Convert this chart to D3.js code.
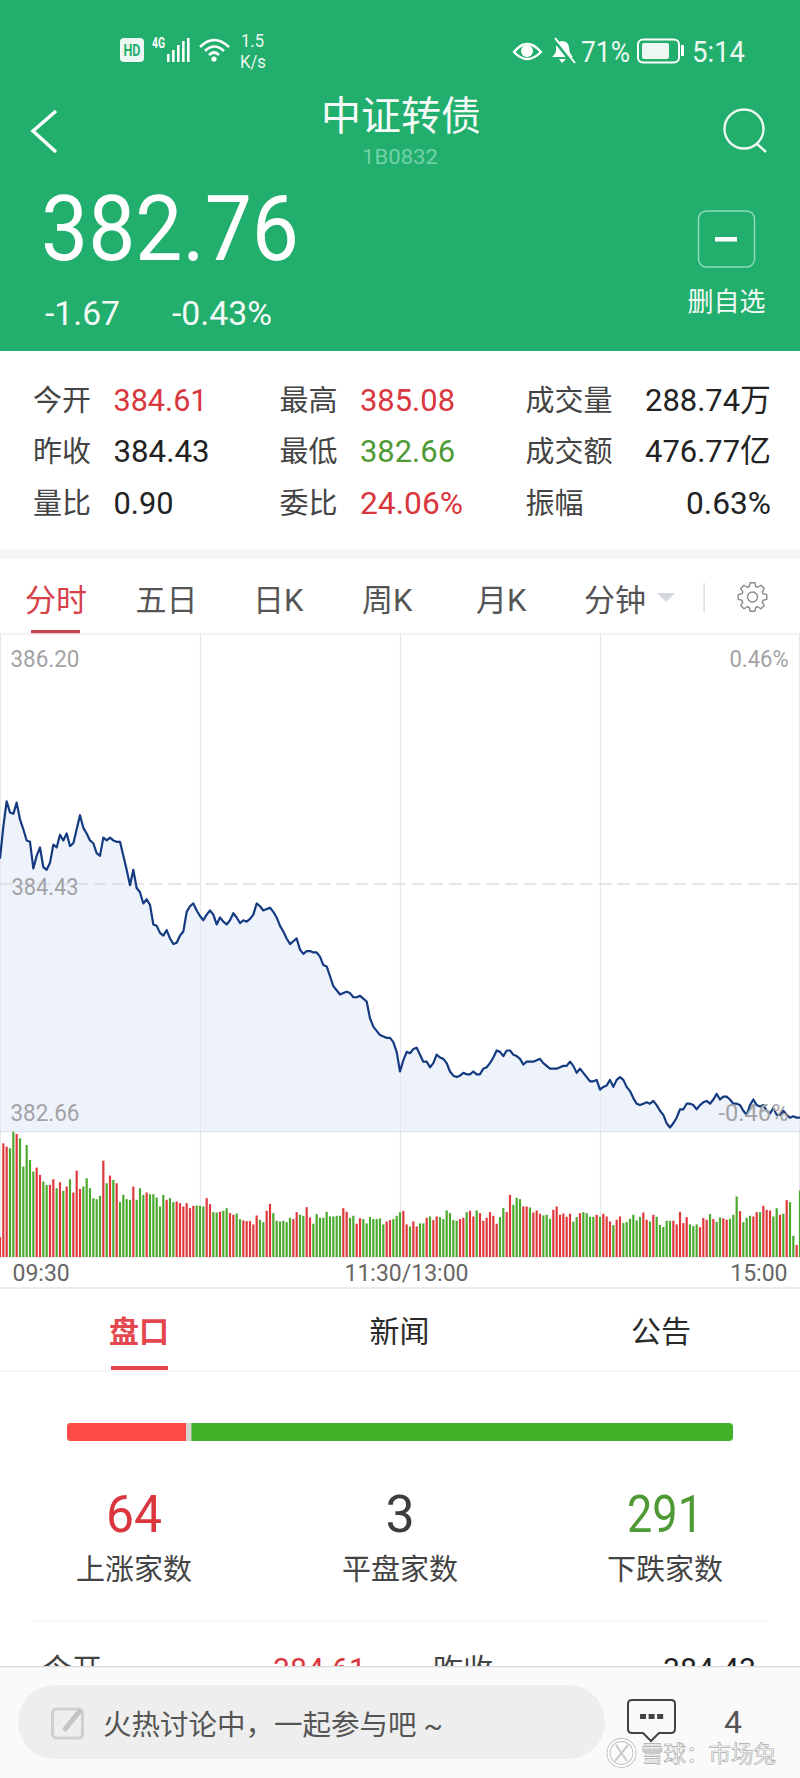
<!DOCTYPE html>
<html>
<head>
  <meta charset="utf-8" />
  <script src="https://d3js.org/d3.v7.min.js"></script>
  <style>
    body {
      margin: 0;
      background: #fff;
    }
    svg {
      display: block;
    }
    text {
      font-family: Roboto, "Noto Sans CJK SC", sans-serif;
    }
  </style>
</head>
<body>
  <script>
    // minute prices, 09:30 to 15:00
    var pricesEarly = [
      384.61,384.84,385.02,384.94,384.93,385.01,384.89,384.82,384.74,384.73,
      384.54,384.63,384.69,384.55,384.53,384.58,384.71,384.69,384.78,384.74,
      384.79,384.70,384.72,384.82,384.92,384.83,384.79,384.74,384.72,384.65,
      384.63,384.76,384.74,384.76,384.74,384.73,384.73,384.63,384.53,384.42,
      384.53,384.40,384.37,384.29,384.32,384.28,384.14,384.13,384.08,384.06,
      384.10,384.04,384.00,384.01,384.06,384.09,384.23,384.27,384.29,384.24,
      384.20,384.17,384.21,384.24,384.21,384.14,384.19,384.16,384.14,384.17,
      384.22,384.19,384.15,384.17,384.16,384.18,384.21,384.29,384.27,384.24,
      384.25
    ];
    var pricesMiddle = [
      384.26,384.23,384.19,384.13,384.09,384.04,384.00,384.02,384.04,383.96,
      383.93,383.95,383.95,383.94,383.94,383.91,383.85,383.84,383.77,383.70,
      383.67,383.64,383.65,383.66,383.65,383.62,383.62,383.63,383.61,383.59,
      383.47,383.41,383.38,383.35,383.34,383.33,383.33,383.30,383.23,383.09,
      383.17,383.23,383.22,383.25,383.26,383.21,383.16,383.16,383.12,383.15,
      383.21,383.19,383.18,383.15,383.09,383.06,383.05,383.06,383.08,383.07,
      383.07,383.09,383.07,383.07,383.11,383.12,383.15,383.19,383.24,383.23,
      383.20,383.24,383.24,383.21,383.20,383.18,383.14,383.16
    ];
    var pricesLate = [
      383.16,383.16,383.17,383.18,383.15,383.13,383.11,383.11,383.11,383.12,
      383.13,383.13,383.16,383.13,383.08,383.11,383.08,383.05,383.02,383.02,
      383.03,382.96,382.98,382.99,383.03,382.98,383.03,383.05,383.03,382.98,
      382.95,382.90,382.86,382.85,382.86,382.87,382.86,382.88,382.85,382.81,
      382.78,382.72,382.69,382.72,382.76,382.82,382.82,382.86,382.86,382.85,
      382.82,382.85,382.87,382.88,382.86,382.89,382.93,382.89,382.91,382.91,
      382.89,382.86,382.86,382.85,382.81,382.78,382.85,382.89,382.85,382.84,
      382.85,382.81,382.79,382.83,382.78,382.78,382.81,382.78,382.76,382.77,
      382.76,382.76
    ];
    // minute volumes, relative units (no scale on the picture)
    var volumesEarly = [
      60,342,332,327,377,370,357,272,337,292,
      257,269,247,227,217,217,234,207,225,199,
      212,234,194,260,205,212,237,207,177,174,
      184,290,222,245,232,222,165,187,174,172,
      212,172,207,187,194,189,189,179,152,187,
      172,177,165,167,162,152,162,147,154,155,
      154,152,177,159,135,134,136,139,147,132,
      127,131,114,110,108,108,98,125,112,105,
      139
    ];
    var volumesMiddle = [
      160,132,109,107,109,105,118,114,135,127,
      124,150,119,100,129,118,118,136,122,122,
      124,124,147,136,118,124,100,117,114,101,
      120,114,114,116,98,107,111,114,124,135,
      139,98,92,107,92,101,101,118,122,111,
      122,120,114,140,132,111,109,114,118,135,
      139,122,140,132,109,118,135,124,100,120,
      147,135,187,157,178,174,152,152,149,134,
      140,130
    ];
    var volumesLate = [
      125,127,115,142,152,127,131,121,130,106,
      120,132,135,132,121,121,127,121,130,122,
      107,96,112,122,102,105,115,127,110,121,
      134,112,107,127,121,96,90,109,109,109,
      98,136,102,120,98,93,98,90,117,112,
      129,114,106,119,116,112,115,127,182,138,
      105,118,124,122,135,135,154,142,140,122,
      147,127,130,171,165,64,36,200
    ];
    // r = up minute, g = down minute
    var volumeDirs = "rrrggrgggg" + "grrggrrgrg" + "rgrrrggggg" + "grgrgrgggg" + "rgggrggggg" +
      "rggrrrrrrg" + "ggrrggrggr" + "rggrrrrrgg" + "r" +
      "rggggggrrg" + "grrggggggg" + "ggrrggrrgg" + "gggggrrggg" + "rrgrrggrgr" +
      "rggggggrrg" + "rrgrrrrrrg" + "grrgggrrgr" + "rr" +
      "gggrrrrrrg" + "grggggrgrr" + "rgrrgggggg" + "rrgrgggggr" + "rrrrgggrrr" +
      "grggrrgggr" + "gggrrgrrrg" + "grgrggrg";

    var priceTicks = [386.20, 384.43, 382.66];
    var percentTicks = ["0.46%", "-0.46%"];
    var timeTicks = [0, 120, 240];
    var timeLabels = ["09:30", "11:30/13:00", "15:00"];
    var gridTicks = [60, 120, 180];

    var tabs = ["分时", "五日", "日K", "周K", "月K", "分钟"];
    var sections = ["盘口", "新闻", "公告"];
    var breadthCounts = [64, 3, 291];
    var breadthLabels = ["上涨家数", "平盘家数", "下跌家数"];

    var red = "#d9363e";
    var green = "#4f9a35";
    var ink = "#333";
    var header = "#22ae6c";

    var prices = pricesEarly.concat(pricesMiddle, pricesLate);
    var volumes = volumesEarly.concat(volumesMiddle, volumesLate);

    var svg = d3.select("body")
      .append("svg")
      .attr("width", 800)
      .attr("height", 1778);

    // one text call for everything, len squeezes Roboto down to the app's narrow digits
    function label(x, y, str, opts) {
      opts = opts || {};
      var t = svg.append("text")
        .attr("x", x)
        .attr("y", y)
        .attr("font-size", opts.size || 28)
        .attr("fill", opts.fill || ink)
        .attr("text-anchor", opts.anchor || "start")
        .attr("font-weight", opts.weight || 400)
        .text(str);
      if (opts.len) {
        t.attr("textLength", opts.len).attr("lengthAdjust", "spacingAndGlyphs");
      }
      return t;
    }

    /* header */
    svg.append("rect").attr("width", 800).attr("height", 351).attr("fill", header);

    svg.append("rect").attr("x", 120).attr("y", 38).attr("width", 24).attr("height", 24)
      .attr("rx", 4).attr("fill", "#eef8f2");
    label(132, 56, "HD", { size: 16, fill: header, anchor: "middle", weight: 700, len: 17 });
    label(152, 48, "4G", { size: 14, fill: "#fff", weight: 700, len: 13 });
    [[167, 8], [172, 12], [177, 17], [182, 21], [187, 24]].forEach(function(b) {
      svg.append("rect").attr("x", b[0]).attr("y", 62 - b[1]).attr("width", 2.6).attr("height", b[1])
        .attr("fill", "#fff");
    });
    svg.append("path")
      .attr("d", "M200 47 Q214 33 229 47 M205 51 Q214 42 224 51 M209 55 Q214 50 219 55")
      .attr("fill", "none").attr("stroke", "#fff").attr("stroke-width", 2.6);
    svg.append("circle").attr("cx", 214).attr("cy", 59).attr("r", 2.6).attr("fill", "#fff");
    label(241, 47, "1.5", { size: 18, fill: "#eef8f2", len: 23 });
    label(240, 68, "K/s", { size: 18, fill: "#eef8f2", len: 26 });

    svg.append("path")
      .attr("d", "M514 52 Q527 36 541 52 Q527 66 514 52 Z")
      .attr("fill", "none").attr("stroke", "#fff").attr("stroke-width", 2.4);
    svg.append("circle").attr("cx", 527).attr("cy", 51).attr("r", 6).attr("fill", "#fff");
    svg.append("path")
      .attr("d", "M552 57 Q557 53 556 47 Q557 41 562 41 Q568 41 569 47 Q569 53 573 57 Z M559 59 H566 L562 63 Z")
      .attr("fill", "#fff");
    svg.append("path").attr("d", "M553 38 L573 63").attr("stroke", header).attr("stroke-width", 4);
    svg.append("path").attr("d", "M555 38 L575 63").attr("stroke", "#fff").attr("stroke-width", 2);
    label(581, 62, "71%", { size: 29, fill: "#eef8f2", len: 49 });
    svg.append("rect").attr("x", 638).attr("y", 39.5).attr("width", 41).attr("height", 23).attr("rx", 5)
      .attr("fill", "none").attr("stroke", "#fff").attr("stroke-width", 2);
    svg.append("rect").attr("x", 642).attr("y", 43).attr("width", 27).attr("height", 16).attr("rx", 2)
      .attr("fill", "#eef8f2");
    svg.append("rect").attr("x", 681).attr("y", 45).attr("width", 3).attr("height", 11).attr("fill", "#fff");
    label(692, 62, "5:14", { size: 29, fill: "#eef8f2", len: 53 });

    svg.append("path").attr("d", "M56 111 L33 131 L56 152")
      .attr("fill", "none").attr("stroke", "#fff").attr("stroke-width", 3.4);
    label(401, 130, "中证转债", { size: 40, fill: "#f6fbf8", anchor: "middle" });
    label(400, 164, "1B0832", { size: 21, fill: "#72d2a9", anchor: "middle", len: 76 });
    svg.append("circle").attr("cx", 744).attr("cy", 129).attr("r", 19.5)
      .attr("fill", "none").attr("stroke", "#eef8f2").attr("stroke-width", 2.4);
    svg.append("path").attr("d", "M757 144 L766 152").attr("stroke", "#eef8f2").attr("stroke-width", 2.4);

    label(41, 260, "382.76", { size: 91, fill: "#fff", len: 258 });
    label(45, 325, "-1.67", { size: 33, fill: "#f2faf6", len: 75 });
    label(172, 325, "-0.43%", { size: 33, fill: "#f2faf6", len: 100 });

    svg.append("rect").attr("x", 698.5).attr("y", 211).attr("width", 56).attr("height", 56).attr("rx", 8)
      .attr("fill", "none").attr("stroke", "#8fdab8").attr("stroke-width", 1.5);
    svg.append("rect").attr("x", 715).attr("y", 237).attr("width", 22).attr("height", 4.5).attr("fill", "#fff");
    label(687.5, 311, "删自选", { size: 26, fill: "#f2faf6" });

    /* quote table */
    var infoLabels = [["今开", "最高", "成交量"], ["昨收", "最低", "成交额"], ["量比", "委比", "振幅"]];
    var infoValues = [["384.61", "385.08", "288.74万"], ["384.43", "382.66", "476.77亿"], ["0.90", "24.06%", "0.63%"]];
    var infoColors = [[red, red, "#222"], ["#222", green, "#222"], ["#222", red, "#222"]];
    var infoLens = [[94, 95, 126], [96, 95, 126], [60, 103, 85]];
    var labelCols = [33, 279.5, 525.5];
    var valueCols = [113.5, 360, 771];

    infoLabels.forEach(function(row, r) {
      var base = 411 + r * 51.4;
      row.forEach(function(name, c) {
        label(labelCols[c], base, name, { size: 29, fill: "#444" });
        label(valueCols[c], base, infoValues[r][c], {
          size: 32,
          fill: infoColors[r][c],
          len: infoLens[r][c],
          anchor: c === 2 ? "end" : "start"
        });
      });
    });

    svg.append("rect").attr("y", 549).attr("width", 800).attr("height", 10).attr("fill", "#f5f5f6");

    /* period tabs */
    var tabCols = [25, 135.5, 253, 362, 476, 584];
    tabs.forEach(function(name, i) {
      label(tabCols[i], 611, name, { size: 31, fill: i === 0 ? "#d6414a" : "#555" });
    });
    svg.append("rect").attr("x", 31).attr("y", 630).attr("width", 49).attr("height", 3.5).attr("fill", "#c8474f");
    svg.append("path").attr("d", "M657 593 L675 593 L666 602 Z").attr("fill", "#d6d8e0");
    svg.append("rect").attr("x", 703.5).attr("y", 583).attr("width", 1.2).attr("height", 29).attr("fill", "#d5d5d8");

    // settings cog, eight teeth traced around the centre
    var gearOutline = [];
    d3.range(8).forEach(function(i) {
      var a = i * Math.PI / 4;
      gearOutline.push([a - 0.3, 11], [a - 0.16, 14.5], [a + 0.16, 14.5], [a + 0.3, 11]);
    });
    var gear = svg.append("g").attr("transform", "translate(752.5 597)");
    gear.append("path")
      .attr("d", d3.lineRadial()(gearOutline) + "Z")
      .attr("fill", "none").attr("stroke", "#8a8a90").attr("stroke-width", 1.4).attr("stroke-linejoin", "round");
    gear.append("circle").attr("r", 5).attr("fill", "none").attr("stroke", "#8a8a90").attr("stroke-width", 1.4);

    /* intraday chart */
    var x = d3.scaleLinear().domain([0, 240]).range([0, 800]);
    var y = d3.scaleLinear().domain([382.66, 386.20]).range([1131.7, 636]);
    var yVol = d3.scaleLinear().domain([0, 377]).range([1257, 1131.7]);

    var area = d3.area()
      .x(function(d, i) {
        return x(i);
      })
      .y0(y(382.66))
      .y1(function(d) {
        return y(d);
      });
    var line = d3.line()
      .x(function(d, i) {
        return x(i);
      })
      .y(function(d) {
        return y(d);
      });

    svg.append("path").attr("d", area(prices)).attr("fill", "#edf2fb");

    svg.selectAll(".grid")
      .data(gridTicks)
      .enter()
      .append("line")
      .attr("class", "grid")
      .attr("x1", function(d) {
        return x(d) + 0.5;
      })
      .attr("x2", function(d) {
        return x(d) + 0.5;
      })
      .attr("y1", 634)
      .attr("y2", 1257)
      .attr("stroke", "#e6e7ee")
      .attr("stroke-width", 1.2);

    svg.append("rect").attr("x", 0.5).attr("y", 634).attr("width", 799).attr("height", 623)
      .attr("fill", "none").attr("stroke", "#e8e8ec").attr("stroke-width", 1);
    svg.append("line").attr("x1", 0).attr("x2", 800).attr("y1", y(382.66)).attr("y2", y(382.66))
      .attr("stroke", "#dfe4ef").attr("stroke-width", 1.2);
    svg.append("line").attr("x1", 0).attr("x2", 800).attr("y1", y(384.43)).attr("y2", y(384.43))
      .attr("stroke", "#d8d8d8").attr("stroke-width", 1.2).attr("stroke-dasharray", "13 5.7");

    svg.append("path")
      .attr("d", line(prices))
      .attr("fill", "none")
      .attr("stroke", "#143b80")
      .attr("stroke-width", 2.2)
      .attr("stroke-linejoin", "round");

    svg.selectAll(".vol")
      .data(volumes)
      .enter()
      .append("rect")
      .attr("class", "vol")
      .attr("x", function(d, i) {
        return x(i) - 1.1;
      })
      .attr("width", 2.2)
      .attr("y", function(d) {
        return yVol(d);
      })
      .attr("height", function(d) {
        return yVol(0) - yVol(d);
      })
      .attr("fill", function(d, i) {
        return volumeDirs[i] === "r" ? "#e0393c" : "#4aa92e";
      });

    var tickGray = "#a3a3a6";
    label(10.5, 667, priceTicks[0].toFixed(2), { size: 24, fill: tickGray, len: 69 });
    label(11.5, y(priceTicks[1]) + 11, priceTicks[1].toFixed(2), { size: 24, fill: tickGray, len: 67 });
    label(10.5, y(priceTicks[2]) - 11, priceTicks[2].toFixed(2), { size: 24, fill: tickGray, len: 69 });
    label(729.5, 667, percentTicks[0], { size: 24, fill: tickGray, len: 59 });
    label(718.5, y(priceTicks[2]) - 11, percentTicks[1], { size: 24, fill: tickGray, len: 70 });

    var xAxis = d3.axisBottom(x)
      .tickValues(timeTicks)
      .tickSize(0)
      .tickFormat(function(d, i) {
        return timeLabels[i];
      });
    var xAxisG = svg.append("g")
      .attr("transform", "translate(0 1257)")
      .call(xAxis);
    xAxisG.select(".domain").remove();
    xAxisG.selectAll("text")
      .attr("font-family", null)
      .attr("y", 24)
      .attr("dy", null)
      .attr("font-size", 23)
      .attr("fill", "#666")
      .attr("text-anchor", function(d, i) {
        return ["start", "middle", "end"][i];
      })
      .attr("dx", function(d, i) {
        return [12, 6, -13][i];
      });

    svg.append("rect").attr("y", 1287).attr("width", 800).attr("height", 2).attr("fill", "#ececee");

    /* section tabs */
    var sectionCols = [139, 399.5, 661];
    sections.forEach(function(name, i) {
      label(sectionCols[i], 1342, name, {
        size: 30,
        anchor: "middle",
        fill: i === 0 ? "#e5474f" : "#2a2a2a",
        weight: i === 0 ? 700 : 400
      });
    });
    svg.append("rect").attr("x", 111).attr("y", 1366).attr("width", 57).attr("height", 4).attr("fill", "#e5474f");
    svg.append("rect").attr("y", 1370.5).attr("width", 800).attr("height", 1).attr("fill", "#ececee");

    /* advancers and decliners */
    var total = d3.sum(breadthCounts);
    var xBreadth = d3.scaleLinear().domain([0, total]).range([67, 733]);
    svg.append("rect").attr("x", 67).attr("y", 1423).attr("width", 666).attr("height", 18).attr("rx", 4)
      .attr("fill", "#43b02a");
    svg.append("rect").attr("x", 67).attr("y", 1423).attr("width", xBreadth(breadthCounts[0]) - 67 + 4)
      .attr("height", 18).attr("rx", 4).attr("fill", "#ff4a45");
    svg.append("rect").attr("x", xBreadth(breadthCounts[0]))
      .attr("y", 1423)
      .attr("width", xBreadth(breadthCounts[0] + breadthCounts[1]) - xBreadth(breadthCounts[0]))
      .attr("height", 18)
      .attr("fill", "#d5d5d5");
    svg.append("rect").attr("x", xBreadth(breadthCounts[0] + breadthCounts[1])).attr("y", 1423)
      .attr("width", 6).attr("height", 18).attr("fill", "#43b02a");

    var breadthCols = [134, 400, 665];
    var breadthColors = [red, "#3d3d3d", green];
    var breadthLens = [56, 0, 76];
    breadthCounts.forEach(function(n, i) {
      var opts = { size: 52, anchor: "middle", fill: breadthColors[i] };
      if (breadthLens[i]) {
        opts.len = breadthLens[i];
      }
      label(breadthCols[i], 1532, n, opts);
      label(breadthCols[i], 1580, breadthLabels[i], { size: 29, anchor: "middle", fill: "#444" });
    });
    svg.append("rect").attr("x", 33).attr("y", 1620.5).attr("width", 734).attr("height", 1.2).attr("fill", "#f1f1f2");

    /* next row peeks out above the bottom bar */
    label(42, 1680, "今开", { size: 30, fill: "#444" });
    label(273, 1680, "384.61", { size: 32, fill: red, len: 93 });
    label(433, 1680, "昨收", { size: 30, fill: "#444" });
    label(756, 1680, "384.43", { size: 32, fill: "#222", anchor: "end", len: 93 });

    /* bottom bar */
    svg.append("rect").attr("y", 1667).attr("width", 800).attr("height", 111).attr("fill", "#fafafa");
    svg.append("rect").attr("y", 1666).attr("width", 800).attr("height", 1.2).attr("fill", "#d8d8da");
    svg.append("rect").attr("x", 18).attr("y", 1685).attr("width", 587).attr("height", 74).attr("rx", 37)
      .attr("fill", "#eeeeee");
    svg.append("rect").attr("x", 52.5).attr("y", 1709).attr("width", 30).attr("height", 29).attr("rx", 4)
      .attr("fill", "none").attr("stroke", "#cfcfcf").attr("stroke-width", 3);
    svg.append("path").attr("d", "M62 1729 L79 1708 L83 1711 L66 1732 Z").attr("fill", "#c4c4c4");
    label(103, 1735, "火热讨论中，一起参与吧 ~", { size: 28.5, fill: "#555" });

    svg.append("path")
      .attr("d", "M632 1700 H671 Q675 1700 675 1704 V1729 Q675 1733 671 1733 H659 L651 1741 L643 1733 H632 Q628 1733 628 1729 V1704 Q628 1700 632 1700 Z")
      .attr("fill", "none").attr("stroke", "#444").attr("stroke-width", 2);
    d3.range(3).forEach(function(i) {
      svg.append("rect").attr("x", 640 + i * 8.6).attr("y", 1714).attr("width", 6).attr("height", 5).attr("fill", "#444");
    });
    label(733, 1733, "4", { size: 32, fill: "#555", anchor: "middle" });

    /* watermark */
    svg.append("circle").attr("cx", 621.5).attr("cy", 1753).attr("r", 13)
      .attr("fill", "none").attr("stroke", "#bdbdbd").attr("stroke-width", 4);
    svg.append("circle").attr("cx", 621.5).attr("cy", 1753).attr("r", 13)
      .attr("fill", "none").attr("stroke", "#fff").attr("stroke-width", 2.2);
    svg.append("path").attr("d", "M616 1745 L627 1761 M628 1745 L615 1761")
      .attr("stroke", "#c9c9c9").attr("stroke-width", 2);
    label(641, 1762, "雪球：市场兔", { size: 22.5, fill: "#fff" })
      .attr("stroke", "#aaa")
      .attr("stroke-width", 0.7);
  </script>
</body>
</html>
